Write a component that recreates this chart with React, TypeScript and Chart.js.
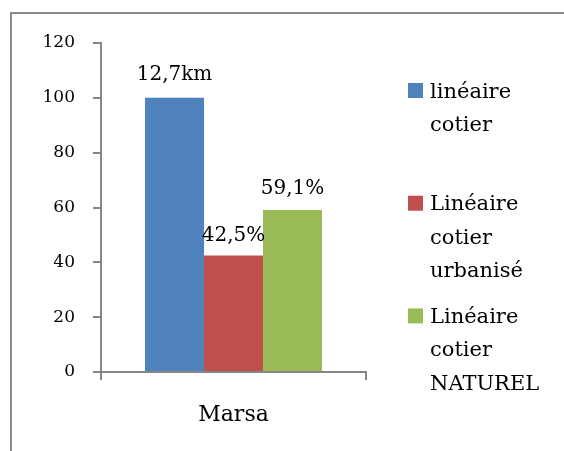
import React, { useEffect, useRef } from "react";
import { Chart, registerables } from "chart.js";

Chart.register(...registerables);

const categories = ["Marsa"];
const seriesNames = [
  ["linéaire", "cotier"],
  ["Linéaire", "cotier", "urbanisé"],
  ["Linéaire", "cotier", "NATUREL"],
];
const seriesValues = [[100], [42.5], [59.1]];
const valueLabels = ["12,7km", "42,5%", "59,1%"];
const seriesColors = ["#4F81BD", "#C0504D", "#9BBB59"];
const yTicks = [0, 20, 40, 60, 80, 100, 120];

const FONT = "'DejaVu Serif', 'Liberation Serif', serif";
const AXIS = "#868686";

const frame = {
  id: "frame",
  beforeDraw(chart: any) {
    const ctx = chart.ctx;
    ctx.save();
    ctx.strokeStyle = "#8c8c8c";
    ctx.lineWidth = 2;
    ctx.beginPath();
    ctx.moveTo(11, chart.height);
    ctx.lineTo(11, 13);
    ctx.lineTo(chart.width, 13);
    ctx.stroke();
    ctx.restore();
  },
};

const valueLabelPlugin = {
  id: "valueLabels",
  afterDatasetsDraw(chart: any) {
    const ctx = chart.ctx;
    const offsets = [18, 14, 16];
    ctx.save();
    ctx.fillStyle = "#000";
    ctx.font = "20px " + FONT;
    ctx.textAlign = "center";
    ctx.textBaseline = "alphabetic";
    chart.data.datasets.forEach((_: any, i: number) => {
      const meta = chart.getDatasetMeta(i);
      meta.data.forEach((bar: any) => {
        ctx.fillText(valueLabels[i], bar.x, bar.y - offsets[i]);
      });
    });
    ctx.restore();
  },
};

const legendPlugin = {
  id: "customLegend",
  afterDraw(chart: any) {
    const ctx = chart.ctx;
    const boxX = chart.chartArea.right + 42;
    const textX = boxX + 22;
    ctx.save();
    ctx.font = "21px " + FONT;
    ctx.textAlign = "left";
    ctx.textBaseline = "alphabetic";
    chart.data.datasets.forEach((ds: any, i: number) => {
      const base = 97.5 + i * 112.7;
      ctx.fillStyle = ds.backgroundColor;
      ctx.fillRect(boxX, base - 14.5, 15, 15);
      ctx.fillStyle = "#000";
      (ds.label as string[]).forEach((line: string, j: number) => {
        ctx.fillText(line, textX, base + j * 33.3);
      });
    });
    ctx.restore();
  },
};

export default function App() {
  const ref = useRef<HTMLCanvasElement>(null);
  useEffect(() => {
    const chart = new Chart(ref.current as HTMLCanvasElement, {
      type: "bar",
      data: {
        labels: categories,
        datasets: seriesValues.map((vals, i) => ({
          label: seriesNames[i] as any,
          data: vals,
          backgroundColor: seriesColors[i],
          borderWidth: 0,
          barPercentage: 1,
          categoryPercentage: 0.668,
        })),
      },
      options: {
        animation: false,
        responsive: false,
        maintainAspectRatio: false,
        layout: { padding: { top: 43, right: 198, left: 0, bottom: 0 } },
        plugins: {
          legend: { display: false },
          tooltip: { enabled: false },
        },
        scales: {
          x: {
            afterFit(scale: any) {
              scale.height = 79;
            },
            grid: {
              offset: true,
              drawOnChartArea: false,
              drawTicks: true,
              tickLength: 8,
              color: AXIS,
              lineWidth: 2,
            },
            border: { display: true, color: AXIS, width: 2 },
            ticks: {
              color: "#000",
              font: { family: FONT, size: 22 },
              padding: 22,
            },
          },
          y: {
            min: 0,
            max: 120,
            afterFit(scale: any) {
              scale.width = 101;
            },
            afterBuildTicks(scale: any) {
              scale.ticks = yTicks.map((v) => ({ value: v }));
            },
            grid: {
              drawOnChartArea: false,
              drawTicks: true,
              tickLength: 8,
              color: AXIS,
              lineWidth: 2,
            },
            border: { display: true, color: AXIS, width: 2 },
            ticks: {
              color: "#000",
              font: { family: FONT, size: 17 },
              padding: 18,
            },
          },
        },
      },
      plugins: [frame, valueLabelPlugin, legendPlugin],
    });
    return () => chart.destroy();
  }, []);
  return (
    <div style={{ position: "absolute", left: 0, top: 0, width: 564, height: 451, background: "#fff" }}>
      <canvas ref={ref} width={564} height={451} style={{ display: "block" }} />
    </div>
  );
}
